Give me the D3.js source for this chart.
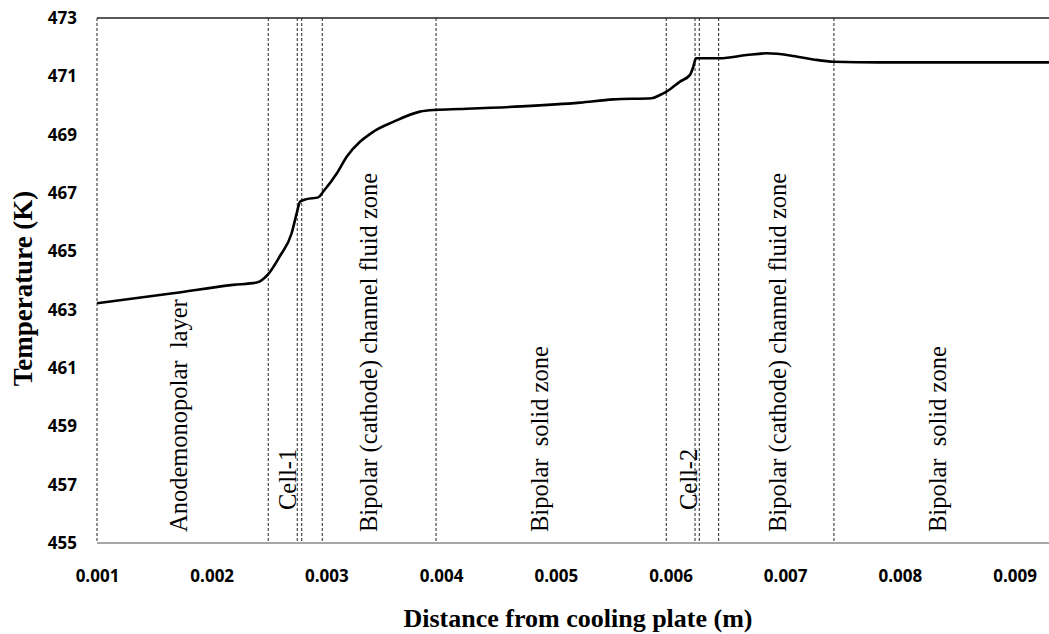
<!DOCTYPE html>
<html>
<head>
<meta charset="utf-8">
<script src="https://cdn.jsdelivr.net/npm/d3@7"></script>
<style>
  body { margin: 0; background: #fff; }
  svg { display: block; }
</style>
</head>
<body>
<div id="chart"></div>
<script>
// temperature profile
const distance = [0.001, 0.001663, 0.002186, 0.002392, 0.002493, 0.002595, 0.002697, 0.002741,
  0.00277, 0.002828, 0.002929, 0.002973, 0.00309, 0.003177, 0.003409, 0.003583, 0.003816,
  0.003956, 0.004165, 0.0047, 0.005211, 0.005501, 0.005836, 0.005908, 0.005963, 0.006083,
  0.00617, 0.006199, 0.006222, 0.006432, 0.006664, 0.006839, 0.007071, 0.007245, 0.007425,
  0.007826, 0.0093]
const temperature = [463.22, 463.56, 463.85, 463.93, 464.22, 464.84, 465.62, 466.30,
  466.70, 466.79, 466.85, 467.05, 467.67, 468.24, 469.10, 469.44, 469.79,
  469.85, 469.88, 469.97, 470.10, 470.21, 470.25, 470.36, 470.47, 470.82,
  471.05, 471.33, 471.62, 471.62, 471.73, 471.79, 471.70, 471.58, 471.50,
  471.48, 471.48]

// zone boundaries (dashed lines)
const boundaries = [0.001, 0.002493, 0.002746, 0.002785, 0.002964, 0.003956,
  0.005963, 0.006214, 0.006251, 0.00642, 0.007425]

// zone names and where they sit along x
const zoneNames = ["Anodemonopolar  layer", "Cell-1", "Bipolar (cathode) channel fluid zone",
  "Bipolar  solid zone", "Cell-2", "Bipolar (cathode) channel fluid zone", "Bipolar  solid zone"]
const zoneX = [0.001785, 0.002735, 0.003441, 0.004932, 0.006231, 0.007007, 0.008402]
const zoneShort = [false, true, false, false, true, false, false]

const xTicks = [0.001, 0.002, 0.003, 0.004, 0.005, 0.006, 0.007, 0.008, 0.009]
const yTicks = [455, 457, 459, 461, 463, 465, 467, 469, 471, 473]

const width = 1049, height = 634
const margin = {top: 18, right: 0, bottom: 91, left: 97}

const svg = d3.select("#chart").append("svg")
  .attr("width", width)
  .attr("height", height)

const x = d3.scaleLinear()
  .domain([0.001, 0.0093])
  .range([margin.left, width - margin.right])

const y = d3.scaleLinear()
  .domain([455, 473])
  .range([height - margin.bottom, margin.top])

// top border
svg.append("line")
  .attr("x1", x(0.001)).attr("x2", width)
  .attr("y1", y(473)).attr("y2", y(473))
  .attr("stroke", "#222").attr("stroke-width", 1.6)

// bottom axis line
svg.append("line")
  .attr("x1", x(0.001)).attr("x2", width)
  .attr("y1", y(455)).attr("y2", y(455))
  .attr("stroke", "#8a8a8a").attr("stroke-width", 1.5)

// dashed zone lines
svg.selectAll(".zone-line")
  .data(boundaries)
  .join("line")
  .attr("class", "zone-line")
  .attr("x1", d => x(d)).attr("x2", d => x(d))
  .attr("y1", y(473)).attr("y2", y(455))
  .attr("stroke", "#222")
  .attr("stroke-width", 1)
  .attr("stroke-dasharray", "3,2")

// y tick labels
const yAxis = svg.append("g")
  .attr("transform", `translate(${margin.left},0)`)
  .call(d3.axisLeft(y).tickValues(yTicks).tickSize(0).tickPadding(20).tickFormat(d3.format("d")))
yAxis.select(".domain").remove()
yAxis.selectAll("text")
  .attr("font-family", "Open Sans")
  .attr("font-weight", "bold")
  .attr("font-size", 17)
  .attr("fill", "#000")

// x tick labels
const xAxis = svg.append("g")
  .attr("transform", `translate(0,${y(455)})`)
  .call(d3.axisBottom(x).tickValues(xTicks).tickSize(0).tickPadding(27).tickFormat(d3.format(".3f")))
xAxis.select(".domain").remove()
xAxis.selectAll("text")
  .attr("font-family", "Open Sans")
  .attr("font-weight", "bold")
  .attr("font-size", 17)
  .attr("fill", "#000")

// curve
const line = d3.line()
  .x((d, i) => x(distance[i]))
  .y(d => y(d))
  .curve(d3.curveMonotoneX)

svg.append("path")
  .datum(temperature)
  .attr("d", line)
  .attr("fill", "none")
  .attr("stroke", "#000")
  .attr("stroke-width", 2.6)

// zone labels, rotated
svg.selectAll(".zone-label")
  .data(zoneNames)
  .join("text")
  .attr("class", "zone-label")
  .attr("transform", (d, i) => `translate(${x(zoneX[i])},${y(455) - (zoneShort[i] ? 33 : 11)}) rotate(-90)`)
  .attr("font-family", "Liberation Serif")
  .attr("font-size", 24.5)
  .attr("fill", "#000")
  .attr("xml:space", "preserve")
  .style("white-space", "pre")
  .text(d => d)

// axis titles
svg.append("text")
  .attr("transform", `translate(32,${(y(473) + y(455)) / 2 + 8}) rotate(-90)`)
  .attr("text-anchor", "middle")
  .attr("font-family", "Liberation Serif")
  .attr("font-weight", "bold")
  .attr("font-size", 27)
  .text("Temperature (K)")

svg.append("text")
  .attr("x", 578)
  .attr("y", 627)
  .attr("text-anchor", "middle")
  .attr("font-family", "Liberation Serif")
  .attr("font-weight", "bold")
  .attr("font-size", 26)
  .text("Distance from cooling plate (m)")
</script>
</body>
</html>
